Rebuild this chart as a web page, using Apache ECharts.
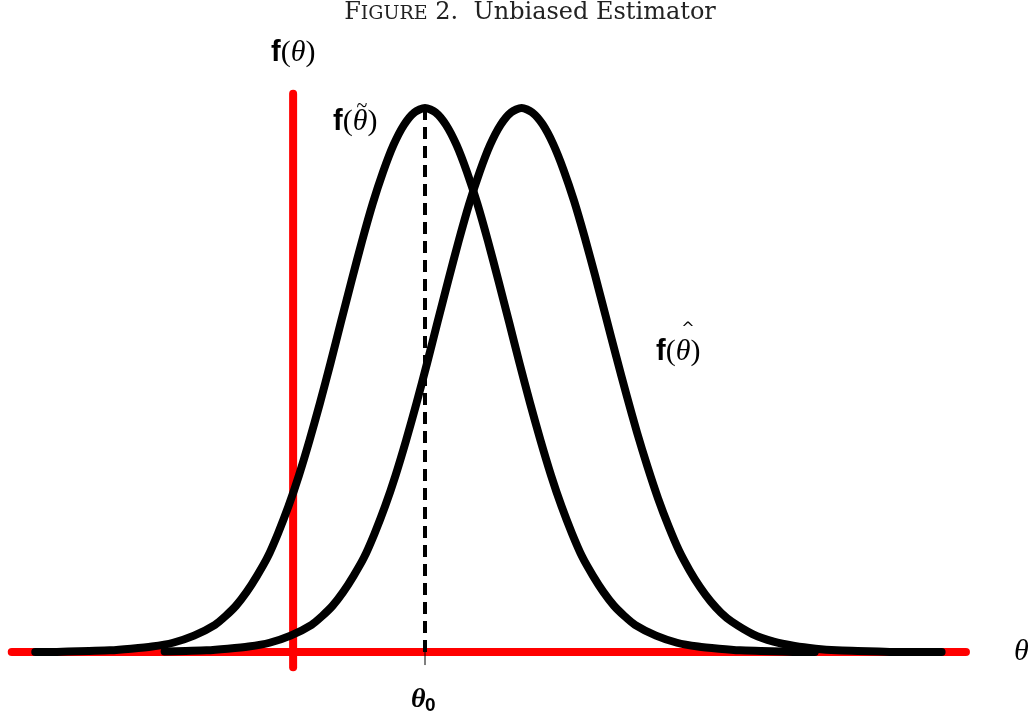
<!DOCTYPE html>
<html>
<head>
<meta charset="utf-8">
<script src="https://cdn.jsdelivr.net/npm/echarts@6/dist/echarts.min.js"></script>
<style>
  html, body { margin: 0; padding: 0; background: #fff; }
  #main { width: 1031px; height: 717px; }
</style>
</head>
<body>
<div id="main"></div>
<script>
// f(theta tilde): centred on theta0
var tildeX = [-4.64, -4.5, -4.25, -4, -3.75, -3.5, -3.25, -3, -2.75,
  -2.5, -2.375, -2.25, -2.125, -2, -1.875, -1.75, -1.625, -1.5, -1.375, -1.25, -1.125,
  -1, -0.875, -0.75, -0.625, -0.5, -0.375, -0.25, -0.125, 0,
  0.125, 0.25, 0.375, 0.5, 0.625, 0.75, 0.875, 1,
  1.125, 1.25, 1.375, 1.5, 1.625, 1.75, 1.875, 2, 2.125, 2.25, 2.375, 2.5,
  2.75, 3, 3.25, 3.5, 3.75, 4, 4.25, 4.5, 4.64];
var tildeY = [0, 0, 0.001, 0.002, 0.003, 0.006, 0.010, 0.017, 0.030,
  0.050, 0.066, 0.085, 0.110, 0.140, 0.174, 0.218, 0.268, 0.325, 0.389, 0.458, 0.531,
  0.607, 0.682, 0.755, 0.823, 0.882, 0.932, 0.969, 0.992, 1,
  0.992, 0.969, 0.932, 0.882, 0.823, 0.755, 0.682, 0.607,
  0.531, 0.458, 0.389, 0.325, 0.268, 0.218, 0.174, 0.140, 0.110, 0.085, 0.066, 0.050,
  0.030, 0.017, 0.010, 0.006, 0.003, 0.002, 0.001, 0, 0];

// f(theta hat): shifted to the right
var hatX = [-3.10, -2.85, -2.60, -2.35, -2.10, -1.85, -1.60,
  -1.35, -1.225, -1.10, -0.975, -0.85, -0.725, -0.60, -0.475, -0.35, -0.225, -0.10, 0.025,
  0.15, 0.275, 0.40, 0.525, 0.65, 0.775, 0.90, 1.025, 1.15,
  1.275, 1.40, 1.525, 1.65, 1.775, 1.90, 2.025, 2.15,
  2.275, 2.40, 2.525, 2.65, 2.775, 2.90, 3.025, 3.15, 3.275, 3.40, 3.525, 3.65,
  3.90, 4.15, 4.40, 4.65, 4.90, 5.15, 5.40, 5.65, 6.15];
var hatY = [0.001, 0.002, 0.003, 0.006, 0.010, 0.017, 0.030,
  0.050, 0.066, 0.085, 0.110, 0.140, 0.174, 0.218, 0.268, 0.325, 0.389, 0.458, 0.531,
  0.607, 0.682, 0.755, 0.823, 0.882, 0.932, 0.969, 0.992, 1,
  0.992, 0.970, 0.934, 0.886, 0.829, 0.763, 0.692, 0.618,
  0.544, 0.472, 0.403, 0.340, 0.282, 0.231, 0.186, 0.150, 0.119, 0.093, 0.072, 0.056,
  0.033, 0.019, 0.011, 0.006, 0.003, 0.002, 0.001, 0, 0];

var theta0 = 0;
var fAxisAt = -1.57;          // where the f(theta) axis stands
var thetaRange = [-4.92, 6.44];
var fRange = [-0.028, 1.026];
var tickBottom = -0.024;

function zip(xs, ys) {
  return xs.map(function (x, i) { return [x, ys[i]]; });
}

var myChart = echarts.init(document.getElementById('main'));

var serif = '"Liberation Serif", "DejaVu Serif", serif';
var sans = '"Liberation Sans", "DejaVu Sans", sans-serif';

function fLabel() {
  return {
    text: '{f|f}{p|(}{t|θ}{p|)}', textVerticalAlign: 'middle',
    rich: {
      f: { fontFamily: sans, fontWeight: 'bold', fontSize: 29, fill: '#000' },
      p: { fontFamily: serif, fontSize: 30, fill: '#000' },
      t: { fontFamily: serif, fontStyle: 'italic', fontSize: 30, fill: '#000' }
    }
  };
}

myChart.setOption({
  animation: false,
  grid: { left: 5, right: 60, top: 53.6, bottom: 10.6 },
  xAxis: { type: 'value', min: -5, max: 6.5, show: false },
  yAxis: { type: 'value', min: -0.1, max: 1.1, show: false },
  series: [
    {
      type: 'line', silent: true, symbol: 'none', clip: false,
      data: [[thetaRange[0], 0], [thetaRange[1], 0]],
      lineStyle: { color: '#ff0000', width: 8, cap: 'round' }
    },
    {
      type: 'line', silent: true, symbol: 'none', clip: false,
      data: [[fAxisAt, fRange[0]], [fAxisAt, fRange[1]]],
      lineStyle: { color: '#ff0000', width: 8, cap: 'round' }
    },
    {
      type: 'line', silent: true, symbol: 'none', clip: false, smooth: 0.25,
      data: zip(tildeX, tildeY),
      lineStyle: { color: '#000', width: 8, cap: 'round', join: 'round' }
    },
    {
      type: 'line', silent: true, symbol: 'none', clip: false, smooth: 0.25,
      data: zip(hatX, hatY),
      lineStyle: { color: '#000', width: 8, cap: 'round', join: 'round' }
    },
    {
      type: 'line', silent: true, symbol: 'none', clip: false,
      data: [[theta0, 1], [theta0, 0]],
      lineStyle: { color: '#000', width: 4, type: [12, 7] }
    },
    {
      type: 'line', silent: true, symbol: 'none', clip: false,
      data: [[theta0, 0], [theta0, tickBottom]],
      lineStyle: { color: '#000', width: 1 }
    }
  ],
  graphic: [
    {
      type: 'text', x: 530, y: 1,
      style: {
        text: '{a|F}{b|IGURE}{a| 2.  Unbiased Estimator}', textAlign: 'center',
        rich: {
          a: { fontFamily: '"DejaVu Serif", serif', fontSize: 24, fill: '#222', verticalAlign: 'bottom' },
          b: { fontFamily: '"DejaVu Serif", serif', fontSize: 19, fill: '#222', verticalAlign: 'bottom', padding: [0, 0, 1, 0] }
        }
      }
    },
    { type: 'text', x: 271, y: 53, style: fLabel() },
    { type: 'text', x: 333, y: 122, style: fLabel() },
    {
      type: 'text', x: 362, y: 107,
      style: { text: '~', fontFamily: serif, fontSize: 20, fill: '#000', textAlign: 'center', textVerticalAlign: 'middle' }
    },
    { type: 'text', x: 656, y: 352, style: fLabel() },
    {
      type: 'text', x: 688, y: 329,
      style: { text: '^', fontFamily: '"DejaVu Sans", sans-serif', fontSize: 16, fill: '#000', textAlign: 'center', textVerticalAlign: 'middle' }
    },
    {
      type: 'text', x: 1014, y: 652,
      style: { text: 'θ', fontFamily: serif, fontStyle: 'italic', fontSize: 30, fill: '#000', textVerticalAlign: 'middle' }
    },
    {
      type: 'text', x: 411, y: 700,
      style: { text: 'θ', fontFamily: serif, fontStyle: 'italic', fontWeight: 'bold', fontSize: 28, fill: '#000', textVerticalAlign: 'middle' }
    },
    {
      type: 'text', x: 425, y: 706,
      style: { text: '0', fontFamily: sans, fontWeight: 'bold', fontSize: 19, fill: '#000', textVerticalAlign: 'middle' }
    }
  ]
});
</script>
</body>
</html>
